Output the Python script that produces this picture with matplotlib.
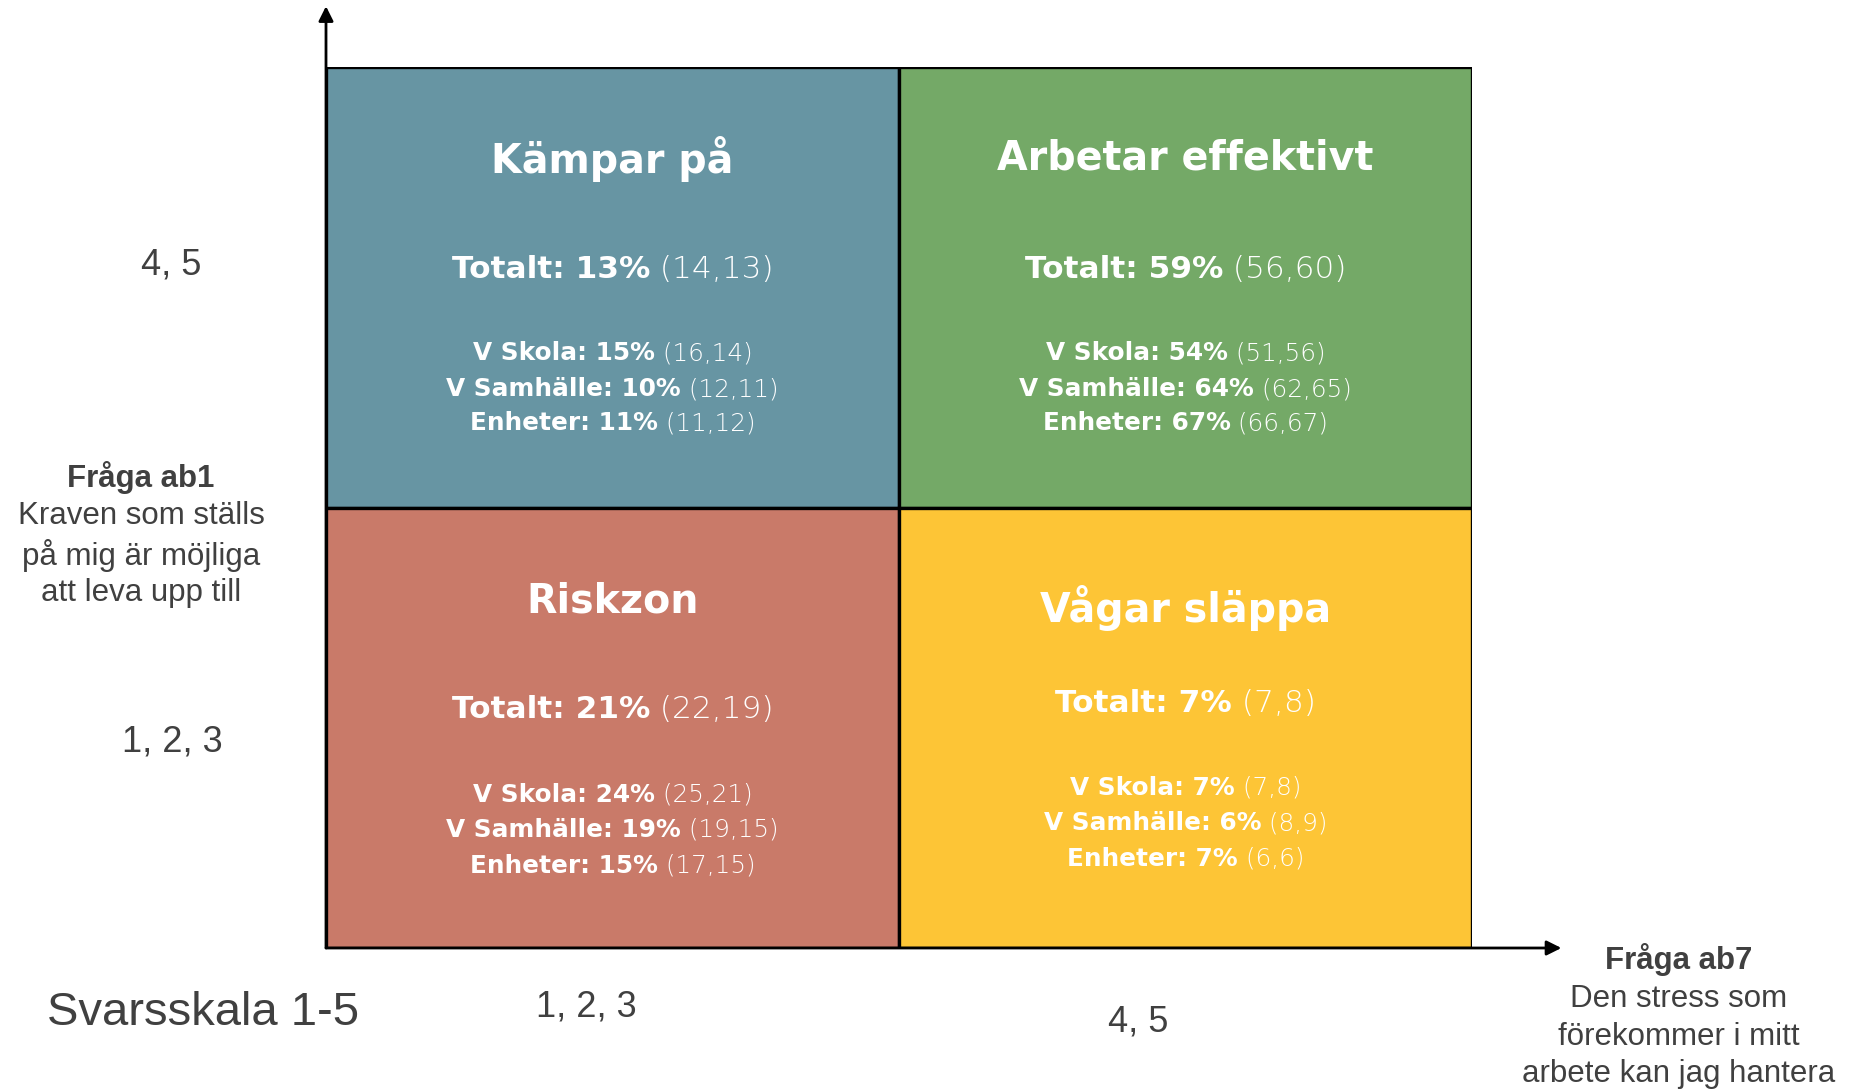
import matplotlib
matplotlib.use("Agg")
import matplotlib.pyplot as plt
from matplotlib.patches import Rectangle

# quadrant data (col, row): col 0 = ab7 low (1,2,3), col 1 = ab7 high (4,5); row 1 = ab1 high
titles = ["Kämpar på", "Arbetar effektivt", "Riskzon", "Vågar släppa"]
cols = [0, 1, 0, 1]
rows = [1, 1, 0, 0]
colors = ["#6795A3", "#74A967", "#C97A69", "#FDC536"]
totalt = ["13%", "59%", "21%", "7%"]
totalt_ci = ["(14,13)", "(56,60)", "(22,19)", "(7,8)"]
groups = ["V Skola", "V Samhälle", "Enheter"]
group_pct = [["15%", "10%", "11%"],
             ["54%", "64%", "67%"],
             ["24%", "19%", "15%"],
             ["7%", "6%", "7%"]]
group_ci = [["(16,14)", "(12,11)", "(11,12)"],
            ["(51,56)", "(62,65)", "(66,67)"],
            ["(25,21)", "(19,15)", "(17,15)"],
            ["(7,8)", "(8,9)", "(6,6)"]]
x_ticks = ["1, 2, 3", "4, 5"]
y_ticks = ["1, 2, 3", "4, 5"]

W, H = 1852, 1091
fig = plt.figure(figsize=(W / 100, H / 100), dpi=100)
ax = fig.add_axes([326 / W, 1 - 948 / H, 1146 / W, 881 / H])
ax.set_xlim(0, 2)
ax.set_ylim(0, 2)
ax.axis("off")

for c, r, col in zip(cols, rows, colors):
    ax.add_patch(Rectangle((c, r), 1, 1, facecolor=col, edgecolor="black", lw=2.4))

# axis arrows
ax.annotate("", xy=(0, 2.138), xytext=(0, 0), xycoords="data",
            arrowprops=dict(arrowstyle="-|>", color="black", lw=2, mutation_scale=22,
                            shrinkA=0, shrinkB=0), annotation_clip=False)
ax.annotate("", xy=(2.156, 0), xytext=(0, 0), xycoords="data",
            arrowprops=dict(arrowstyle="-|>", color="black", lw=2, mutation_scale=22,
                            shrinkA=0, shrinkB=0), annotation_clip=False)

fig.canvas.draw()
rend = fig.canvas.get_renderer()
FONT = "DejaVu Sans"


def mixed(x, y, bold, light, size):
    # centre a bold + regular pair of strings at (x, y) in data coords
    t1 = ax.text(x, y, bold, ha="left", va="center", fontsize=size, color="white",
                 fontweight="bold", family=FONT)
    t2 = ax.text(x, y, " " + light, ha="left", va="center", fontsize=size, color="white",
                 family=FONT, fontweight="light")
    w1 = t1.get_window_extent(rend).width
    w2 = t2.get_window_extent(rend).width
    x0 = ax.transData.transform((x, y))[0] - (w1 + w2) / 2
    inv = ax.transData.inverted()
    t1.set_x(inv.transform((x0, 0))[0])
    t2.set_x(inv.transform((x0 + w1, 0))[0])


def py(pix):
    # pixel row (from top) -> data y
    return 2 - (pix - 67) / 881 * 2


for i in range(4):
    cx = cols[i] + 0.5
    if rows[i] == 1:
        ty, tt, gl = 159, 269, [353, 389, 423]
    elif cols[i] == 0:
        ty, tt, gl = 602, 710, [795, 830, 866]
    else:
        ty, tt, gl = 608, 704, [788, 823, 859]
    ax.text(cx, py(ty), titles[i], ha="center", va="center", fontsize=28.5,
            fontweight="bold", color="white", family=FONT)
    mixed(cx, py(tt), "Totalt: " + totalt[i], totalt_ci[i], 22.5)
    for j in range(3):
        mixed(cx, py(gl[j]), groups[j] + ": " + group_pct[i][j], group_ci[i][j], 17.8)

grey = "#404040"
lab = dict(color=grey, family="Liberation Sans", ha="center", va="center")
fig.text(172 / W, 1 - 742 / H, y_ticks[0], fontsize=26, **lab)
fig.text(171 / W, 1 - 265 / H, y_ticks[1], fontsize=26, **lab)
fig.text(586 / W, 1 - 1007 / H, x_ticks[0], fontsize=26, **lab)
fig.text(1138 / W, 1 - 1022 / H, x_ticks[1], fontsize=26, **lab)

fig.text(47 / W, 1 - 1013 / H, "Svarsskala 1-5", fontsize=34, color=grey,
         family="Liberation Sans", ha="left", va="center")

fig.text(141 / W, 1 - 478 / H, "Fråga ab1", fontsize=22.5, fontweight="bold", **lab)
for s, yy in zip(["Kraven som ställs", "på mig är möjliga", "att leva upp till"],
                 [516, 555, 593]):
    fig.text(141 / W, 1 - yy / H, s, fontsize=22.5, **lab)

fig.text(1679 / W, 1 - 959 / H, "Fråga ab7", fontsize=22.5, fontweight="bold", **lab)
for s, yy in zip(["Den stress som", "förekommer i mitt", "arbete kan jag hantera"],
                 [999, 1037, 1074]):
    fig.text(1679 / W, 1 - yy / H, s, fontsize=22.5, **lab)

fig.savefig("out.png", dpi=100, facecolor="white")
